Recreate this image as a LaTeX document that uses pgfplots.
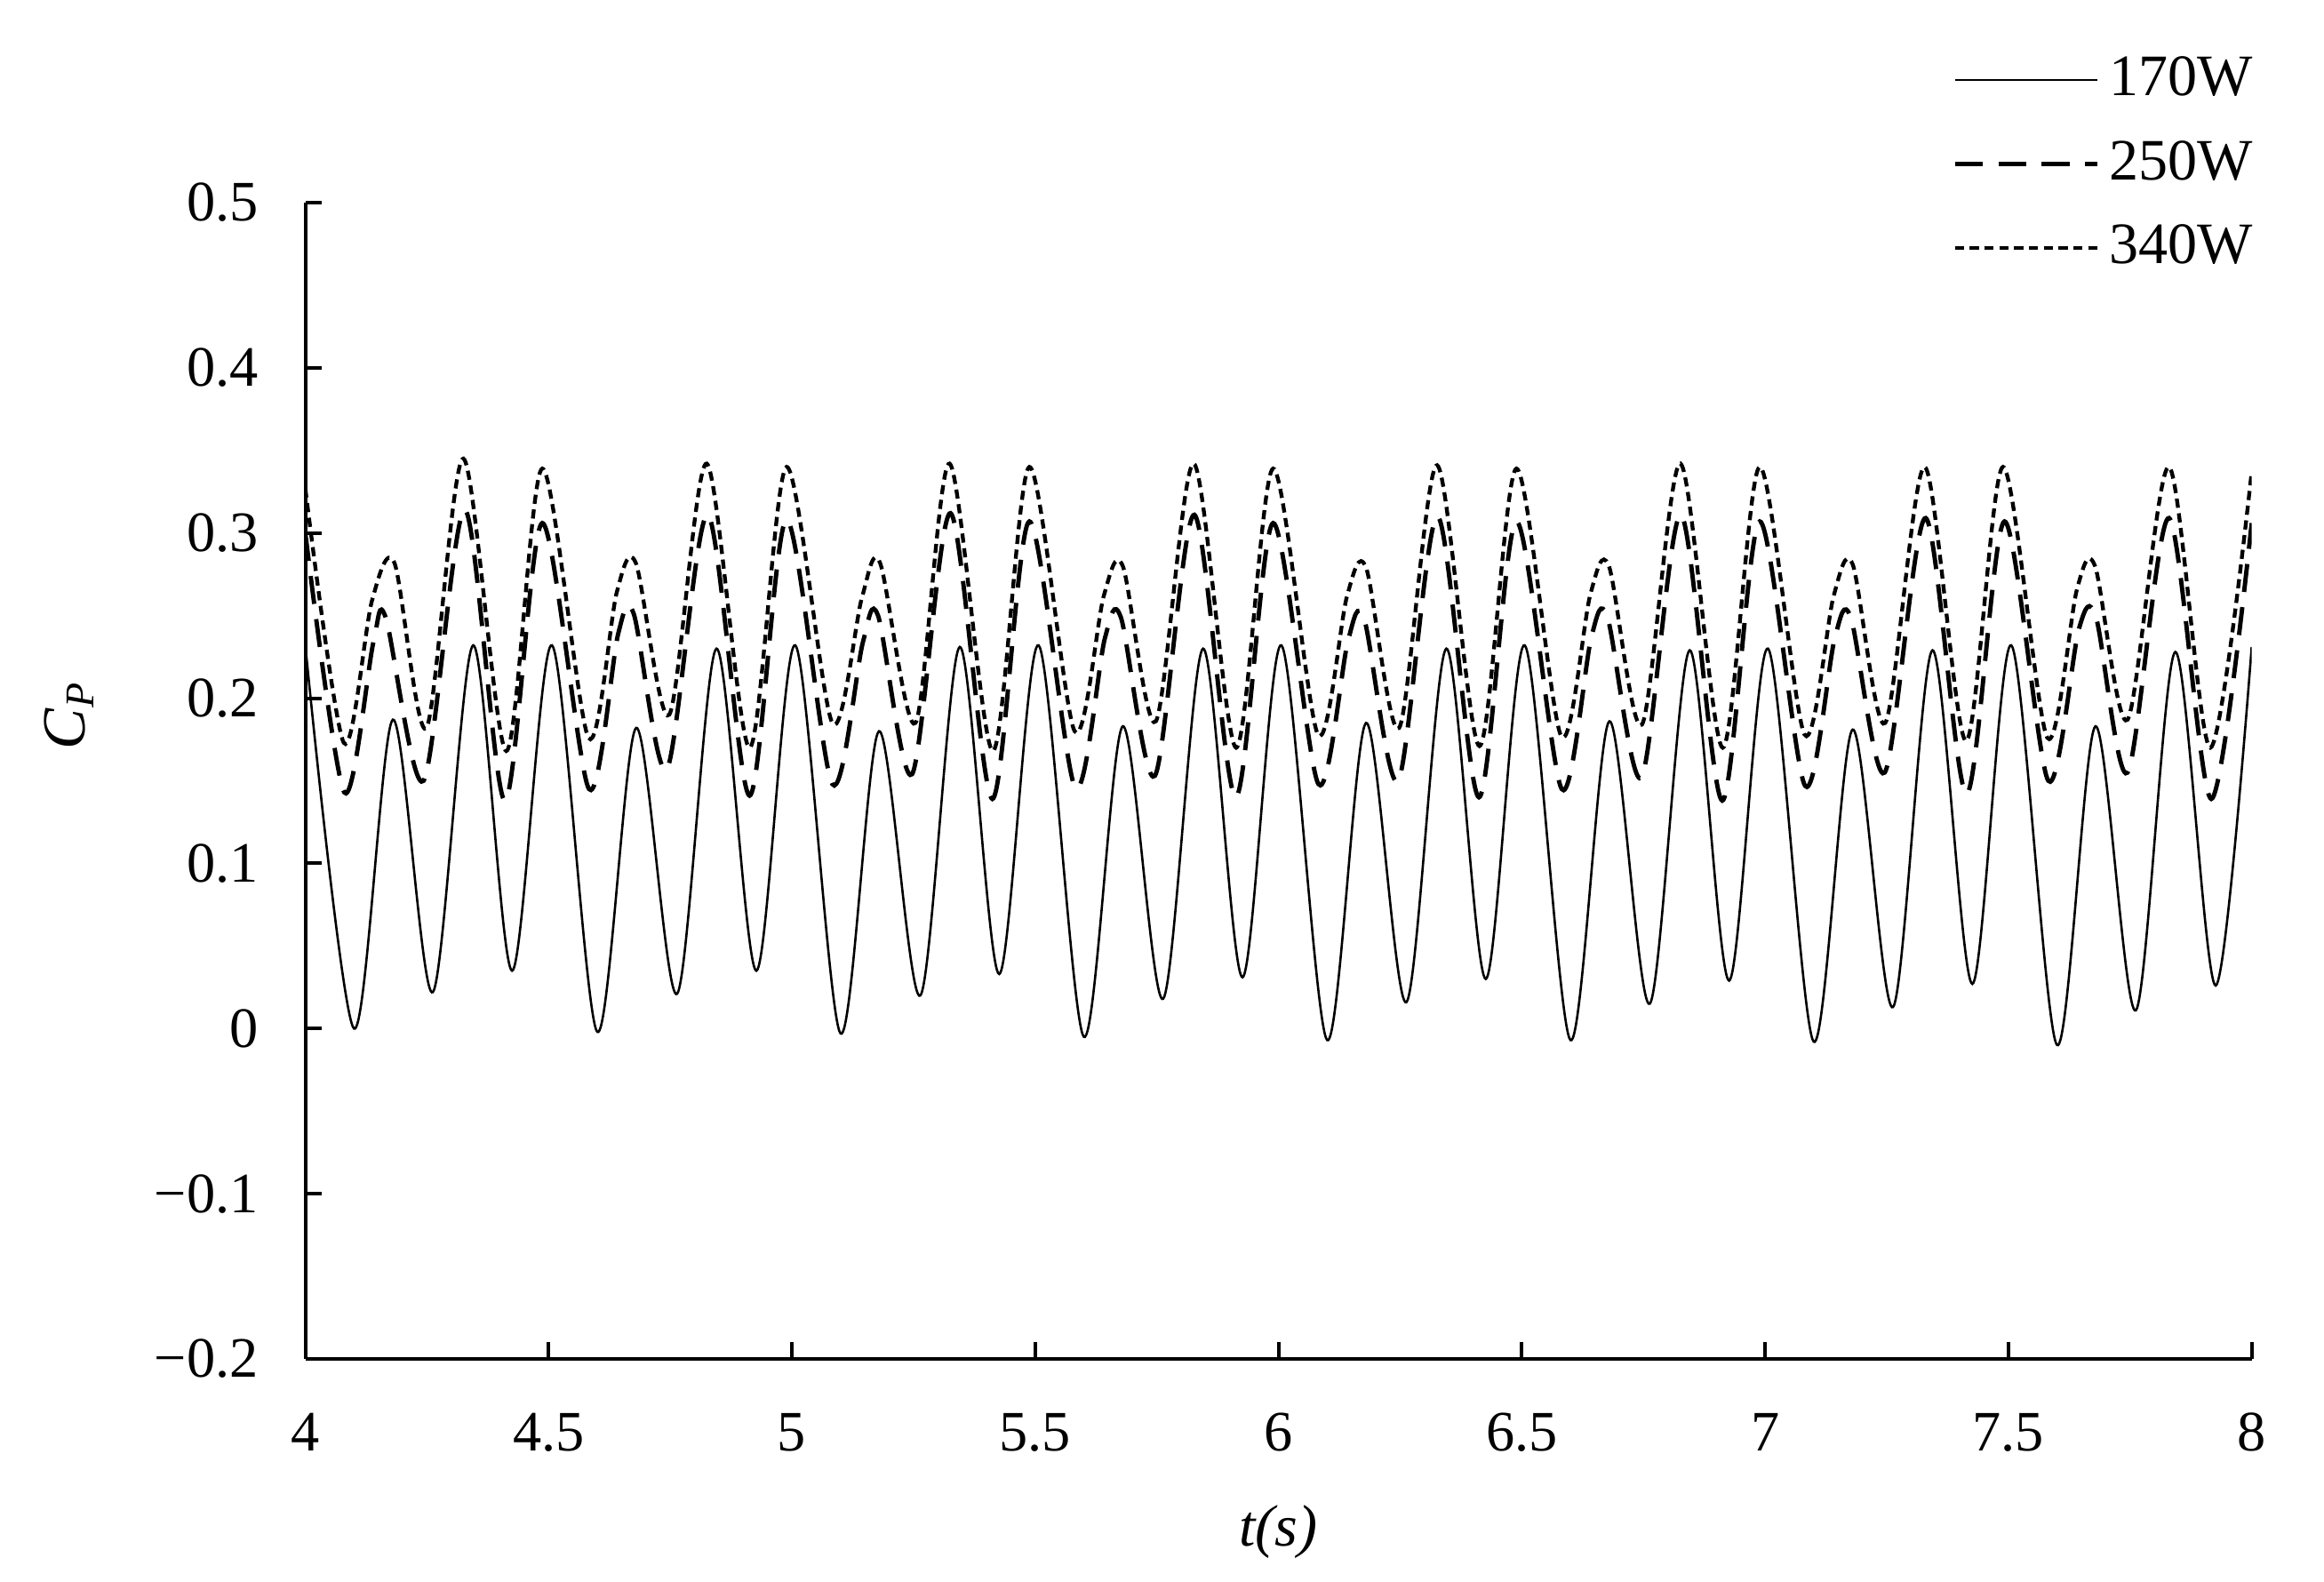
\documentclass[border=0pt]{standalone}
\usepackage{fontspec}
\setmainfont{Liberation Serif}
\usepackage{pgfplots}
\pgfplotsset{compat=1.18}

\begin{document}
\begin{tikzpicture}
\path[use as bounding box] (-2.102,-1.530) rectangle (13.898,9.355);
\begin{axis}[
    scale only axis,
    width=13.40cm,
    height=7.96cm,
    xmin=4, xmax=8,
    ymin=-0.2, ymax=0.5,
    axis x line*=bottom,
    axis y line*=left,
    axis line style={line width=0.7pt},
    tick align=inside,
    major tick length=0.115cm,
    tick style={line width=0.7pt, black},
    xtick={4,4.5,5,5.5,6,6.5,7,7.5,8},
    xticklabels={4,4.5,5,5.5,6,6.5,7,7.5,8},
    ytick={-0.2,-0.1,0,0.1,0.2,0.3,0.4,0.5},
    yticklabels={−0.2,−0.1,0,0.1,0.2,0.3,0.4,0.5},
    ticklabel style={font=\fontsize{11.2}{13}\selectfont},
    yticklabel style={xshift=-0.2cm},
    xticklabel style={yshift=-0.25cm},
    xlabel={\textit{t(s)}},
    ylabel={\textit{C}\textsubscript{\textit{P}}},
    xlabel style={at={(axis description cs:0.5,-0.150)}, anchor=center, font=\fontsize{11.5}{14}\selectfont},
    ylabel style={at={(axis description cs:-0.1215,0.557)}, anchor=center, font=\fontsize{12}{14}\selectfont},
    legend style={draw=none, fill=none, at={(axis description cs:1.0065,1.136)}, anchor=north east,
        font=\fontsize{11.5}{14}\selectfont, row sep=3.3pt, inner sep=0pt},
    legend cell align=left,
    legend image code/.code={\draw[#1] (0cm,0cm) -- (0.98cm,0cm);},
]

% 170W
\addplot[black, line width=0.45pt, smooth, tension=0.5] coordinates {
    (4.000,0.232) (4.100,0.000) (4.180,0.187) (4.262,0.022) (4.345,0.232) (4.425,0.035)
    (4.507,0.232) (4.600,-0.002) (4.680,0.182) (4.764,0.021) (4.845,0.230) (4.927,0.035)
    (5.007,0.232) (5.100,-0.003) (5.179,0.180) (5.264,0.020) (5.345,0.231) (5.426,0.033)
    (5.507,0.232) (5.600,-0.005) (5.680,0.183) (5.763,0.018) (5.845,0.230) (5.926,0.031)
    (6.006,0.232) (6.100,-0.007) (6.180,0.185) (6.263,0.016) (6.345,0.230) (6.426,0.030)
    (6.506,0.232) (6.600,-0.007) (6.680,0.186) (6.763,0.015) (6.845,0.229) (6.926,0.029)
    (7.006,0.230) (7.100,-0.008) (7.180,0.181) (7.263,0.013) (7.344,0.229) (7.426,0.027)
    (7.506,0.232) (7.600,-0.010) (7.679,0.183) (7.762,0.011) (7.843,0.228) (7.926,0.026)
    (8.000,0.231)
};
\addlegendentry{170W}

% 250W
\addplot[black, line width=0.85pt, dash pattern=on 5.5pt off 3pt, smooth, tension=0.5] coordinates {
    (4.000,0.300) (4.080,0.143) (4.140,0.234) (4.165,0.249) (4.243,0.150) (4.328,0.314) (4.410,0.138)
    (4.487,0.306) (4.583,0.145) (4.643,0.239) (4.675,0.251) (4.743,0.157) (4.827,0.311) (4.913,0.141)
    (4.989,0.308) (5.083,0.148) (5.146,0.234) (5.177,0.250) (5.247,0.154) (5.326,0.312) (5.412,0.139)
    (5.488,0.307) (5.582,0.146) (5.643,0.236) (5.676,0.249) (5.746,0.153) (5.827,0.311) (5.912,0.140)
    (5.989,0.306) (6.082,0.148) (6.143,0.235) (6.176,0.248) (6.246,0.150) (6.327,0.310) (6.412,0.140)
    (6.489,0.307) (6.582,0.145) (6.643,0.237) (6.676,0.249) (6.746,0.152) (6.827,0.311) (6.912,0.138)
    (6.989,0.307) (7.082,0.147) (7.143,0.236) (7.176,0.249) (7.246,0.155) (7.330,0.309) (7.414,0.142)
    (7.492,0.307) (7.582,0.150) (7.645,0.242) (7.680,0.249) (7.745,0.155) (7.830,0.309) (7.917,0.139)
    (8.000,0.306)
};
\addlegendentry{250W}

% 340W
\addplot[black, line width=0.75pt, dash pattern=on 1.8pt off 1.1pt, smooth, tension=0.5] coordinates {
    (4.000,0.327) (4.079,0.173) (4.137,0.259) (4.183,0.282) (4.249,0.182) (4.325,0.345) (4.413,0.168)
    (4.487,0.339) (4.582,0.176) (4.640,0.264) (4.679,0.282) (4.748,0.190) (4.825,0.342) (4.913,0.170)
    (4.989,0.340) (5.083,0.185) (5.144,0.261) (5.181,0.282) (5.254,0.185) (5.324,0.342) (5.413,0.168)
    (5.488,0.340) (5.581,0.180) (5.641,0.262) (5.680,0.280) (5.748,0.186) (5.826,0.342) (5.913,0.170)
    (5.989,0.339) (6.081,0.178) (6.141,0.262) (6.180,0.279) (6.248,0.182) (6.326,0.341) (6.413,0.171)
    (6.489,0.339) (6.581,0.177) (6.641,0.263) (6.679,0.280) (6.747,0.184) (6.826,0.342) (6.913,0.170)
    (6.989,0.340) (7.081,0.178) (7.141,0.262) (7.180,0.281) (7.247,0.185) (7.328,0.340) (7.413,0.174)
    (7.489,0.340) (7.580,0.176) (7.641,0.266) (7.678,0.280) (7.745,0.187) (7.830,0.340) (7.915,0.170)
    (8.000,0.337)
};
\addlegendentry{340W}

\end{axis}
\end{tikzpicture}
\end{document}
